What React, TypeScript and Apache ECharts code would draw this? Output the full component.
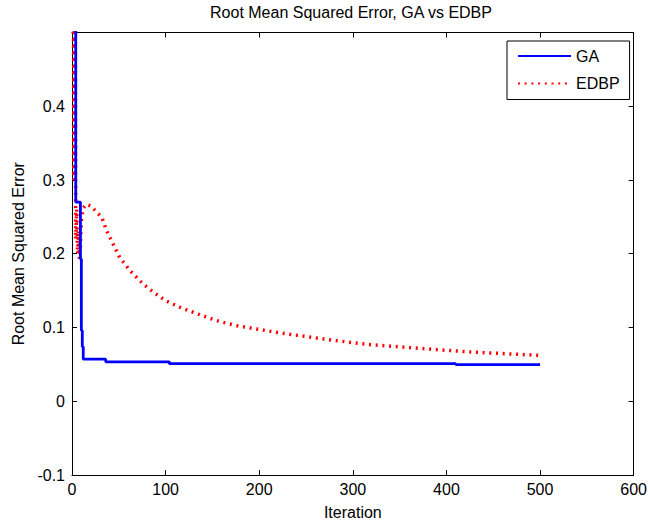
import React, { useEffect, useRef } from "react";
import * as echarts from "echarts";

const TITLE = "Root Mean Squared Error, GA vs EDBP";
const X_NAME = "Iteration";
const Y_NAME = "Root Mean Squared Error";
const SERIES_NAMES = ["GA", "EDBP"];

const X_MIN = 0;
const X_MAX = 600;
const X_STEP = 100;
const Y_MIN = -0.1;
const Y_MAX = 0.5;
const Y_STEP = 0.1;

const GA_ITER = [1, 4, 9, 10, 11, 12, 36, 104, 410, 500];
const GA_RMSE = [1.2, 0.27, 0.193, 0.096, 0.074, 0.057, 0.0535, 0.051, 0.0497, 0.0497];

const EDBP_ITER = [
  1, 2, 3, 4, 5, 6, 7, 8, 9, 10, 12, 15, 20, 26, 32, 37, 44, 51, 62, 76, 88, 100,
  115, 134, 154, 175, 196, 217, 246, 281, 316, 352, 391, 426, 462, 500,
];
const EDBP_RMSE = [
  0.9, 0.3, 0.75, 0.22, 0.26, 0.2, 0.23, 0.193, 0.21, 0.245, 0.262, 0.267, 0.265,
  0.257, 0.249, 0.231, 0.213, 0.195, 0.177, 0.159, 0.147, 0.1365, 0.1276, 0.1185,
  0.1095, 0.1027, 0.0982, 0.0938, 0.0884, 0.0824, 0.077, 0.0735, 0.0699, 0.0668,
  0.0645, 0.0622,
];

const FONT = "'Liberation Sans', Arial, Helvetica, sans-serif";

export default function App() {
  const ref = useRef<HTMLDivElement>(null);

  useEffect(() => {
    if (!ref.current) return;
    const chart = echarts.init(ref.current, null, { renderer: "svg" });

    const gaData = GA_ITER.map((x, i) => [x, GA_RMSE[i]]);
    const edbpData = EDBP_ITER.map((x, i) => [x, EDBP_RMSE[i]]);

    const baseX = {
      type: "value",
      min: X_MIN,
      max: X_MAX,
      interval: X_STEP,
      splitLine: { show: false },
      axisLine: { show: true, onZero: false, lineStyle: { color: "#000", width: 1 } },
      axisTick: { show: true, inside: true, length: 5, lineStyle: { color: "#000" } },
    };
    const baseY = {
      type: "value",
      min: Y_MIN,
      max: Y_MAX,
      interval: Y_STEP,
      splitLine: { show: false },
      axisLine: { show: true, onZero: false, lineStyle: { color: "#000", width: 1 } },
      axisTick: { show: true, inside: true, length: 5, lineStyle: { color: "#000" } },
    };

    chart.setOption({
      animation: false,
      backgroundColor: "#fff",
      textStyle: { fontFamily: FONT },
      graphic: [
        {
          type: "text",
          x: 351,
          y: 12.5,
          style: {
            text: TITLE,
            fontSize: 16,
            fontFamily: FONT,
            fill: "#000",
            align: "center",
            verticalAlign: "middle",
            textAlign: "center",
            textVerticalAlign: "middle",
          },
        },
      ],
      grid: { left: 72, right: 12.5, top: 32.5, bottom: 48.3, containLabel: false },
      legend: {
        orient: "vertical",
        left: 507,
        top: 41,
        padding: [7, 10, 8, 10],
        itemGap: 11.5,
        itemWidth: 53,
        itemHeight: 14,
        borderColor: "#000",
        borderWidth: 1,
        borderRadius: 0,
        backgroundColor: "#fff",
        itemStyle: { opacity: 0 },
        textStyle: { fontSize: 16, color: "#000", fontFamily: FONT },
        data: SERIES_NAMES,
      },
      xAxis: [
        {
          ...baseX,
          position: "bottom",
          name: X_NAME,
          nameLocation: "middle",
          nameGap: 29,
          nameTextStyle: { fontSize: 16, color: "#000", fontFamily: FONT },
          axisLabel: { color: "#000", fontSize: 16, margin: 6, fontFamily: FONT },
        },
        {
          ...baseX,
          position: "top",
          axisLabel: { show: false },
        },
      ],
      yAxis: [
        {
          ...baseY,
          position: "left",
          name: Y_NAME,
          nameLocation: "middle",
          nameGap: 43,
          nameTextStyle: { fontSize: 16, color: "#000", fontFamily: FONT },
          axisLabel: {
            color: "#000",
            fontSize: 16,
            margin: 7,
            fontFamily: FONT,
            formatter: (v: number) =>
              v > Y_MAX - Y_STEP / 2 ? "" : String(Math.round(v * 10) / 10),
          },
        },
        {
          ...baseY,
          position: "right",
          axisLabel: { show: false },
        },
      ],
      series: [
        {
          name: SERIES_NAMES[0],
          type: "line",
          xAxisIndex: 0,
          yAxisIndex: 0,
          data: gaData,
          step: "end",
          symbol: "none",
          clip: true,
          lineStyle: { color: "#0000ff", width: 2.8 },
          itemStyle: { color: "#0000ff" },
          z: 3,
        },
        {
          name: SERIES_NAMES[1],
          type: "line",
          xAxisIndex: 0,
          yAxisIndex: 0,
          data: edbpData,
          symbol: "none",
          clip: true,
          lineStyle: { color: "#ff0000", width: 3.5, type: [2, 4.7], cap: "butt" },
          itemStyle: { color: "#ff0000" },
          z: 2,
        },
      ],
    });

    return () => chart.dispose();
  }, []);

  return (
    <div
      ref={ref}
      style={{ position: "fixed", left: 0, top: 0, width: 650, height: 525, background: "#fff" }}
    />
  );
}
